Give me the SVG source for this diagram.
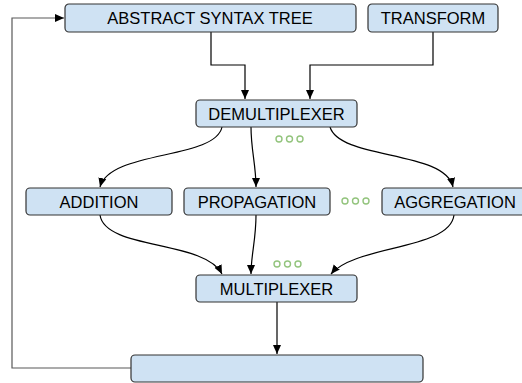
<svg xmlns="http://www.w3.org/2000/svg" width="522" height="383" viewBox="0 0 522 383">
<defs>
<style>
.box{fill:#cfe2f3;stroke:#333;stroke-width:1.2}
.lbl{font-family:"Liberation Sans",Arial,sans-serif;font-size:16.5px;fill:#000;text-anchor:middle}
.ln{fill:none;stroke:#000;stroke-width:1.2}
.fb{fill:none;stroke:#595959;stroke-width:1.2}
.dot{fill:none;stroke:#93c47d;stroke-width:1.4}
</style>
<marker id="ah" markerWidth="10" markerHeight="10" refX="9" refY="5" orient="auto" markerUnits="userSpaceOnUse">
<path d="M0,1 L9,5 L0,9 z" fill="#000"/>
</marker>
</defs>
<rect width="522" height="383" fill="#fff"/>
<g id="connectors">
<path class="ln" d="M211,32 V65 H245 V99" marker-end="url(#ah)"/>
<path class="ln" d="M433,32 V65 H310 V99" marker-end="url(#ah)"/>
<path class="ln" d="M222,127 C215,160 110,150 100,187" marker-end="url(#ah)"/>
<path class="ln" d="M251,127 C251,150 256,165 256,187" marker-end="url(#ah)"/>
<path class="ln" d="M330,127 C340,160 445,150 453,187" marker-end="url(#ah)"/>
<path class="ln" d="M100,215 C105,250 205,240 222,274" marker-end="url(#ah)"/>
<path class="ln" d="M256,215 C256,240 251,255 251,274" marker-end="url(#ah)"/>
<path class="ln" d="M454,215 C450,250 355,245 331,274" marker-end="url(#ah)"/>
<path class="ln" d="M277,302 V354" marker-end="url(#ah)"/>
<path class="fb" d="M131,368 H12 V18 H64" marker-end="url(#ah)"/>
</g>
<g id="dots1"><circle class="dot" cx="279" cy="139" r="3"/><circle class="dot" cx="289.5" cy="139" r="3"/><circle class="dot" cx="300" cy="139" r="3"/></g>
<g id="dots2"><circle class="dot" cx="345" cy="201" r="3"/><circle class="dot" cx="355.5" cy="201" r="3"/><circle class="dot" cx="366" cy="201" r="3"/></g>
<g id="dots3"><circle class="dot" cx="277" cy="264" r="3"/><circle class="dot" cx="287.5" cy="264" r="3"/><circle class="dot" cx="298" cy="264" r="3"/></g>
<g id="ast"><rect class="box" x="65" y="4" width="291" height="28" rx="4"/><text class="lbl" x="210" y="24">ABSTRACT SYNTAX TREE</text></g>
<g id="transform"><rect class="box" x="368" y="4" width="130" height="28" rx="4"/><text class="lbl" x="433" y="24">TRANSFORM</text></g>
<g id="demux"><rect class="box" x="196" y="100" width="161" height="27" rx="4"/><text class="lbl" x="276.5" y="119.5">DEMULTIPLEXER</text></g>
<g id="addition"><rect class="box" x="26" y="188" width="146" height="27" rx="4"/><text class="lbl" x="99" y="207.5">ADDITION</text></g>
<g id="propagation"><rect class="box" x="184" y="188" width="146" height="27" rx="4"/><text class="lbl" x="257" y="207.5">PROPAGATION</text></g>
<g id="aggregation"><rect class="box" x="382" y="188" width="146" height="27" rx="4"/><text class="lbl" x="455" y="207.5">AGGREGATION</text></g>
<g id="mux"><rect class="box" x="196" y="275" width="161" height="27" rx="4"/><text class="lbl" x="276.5" y="294.5">MULTIPLEXER</text></g>
<g id="output"><rect class="box" x="131" y="355" width="292" height="27" rx="4"/></g>
</svg>
